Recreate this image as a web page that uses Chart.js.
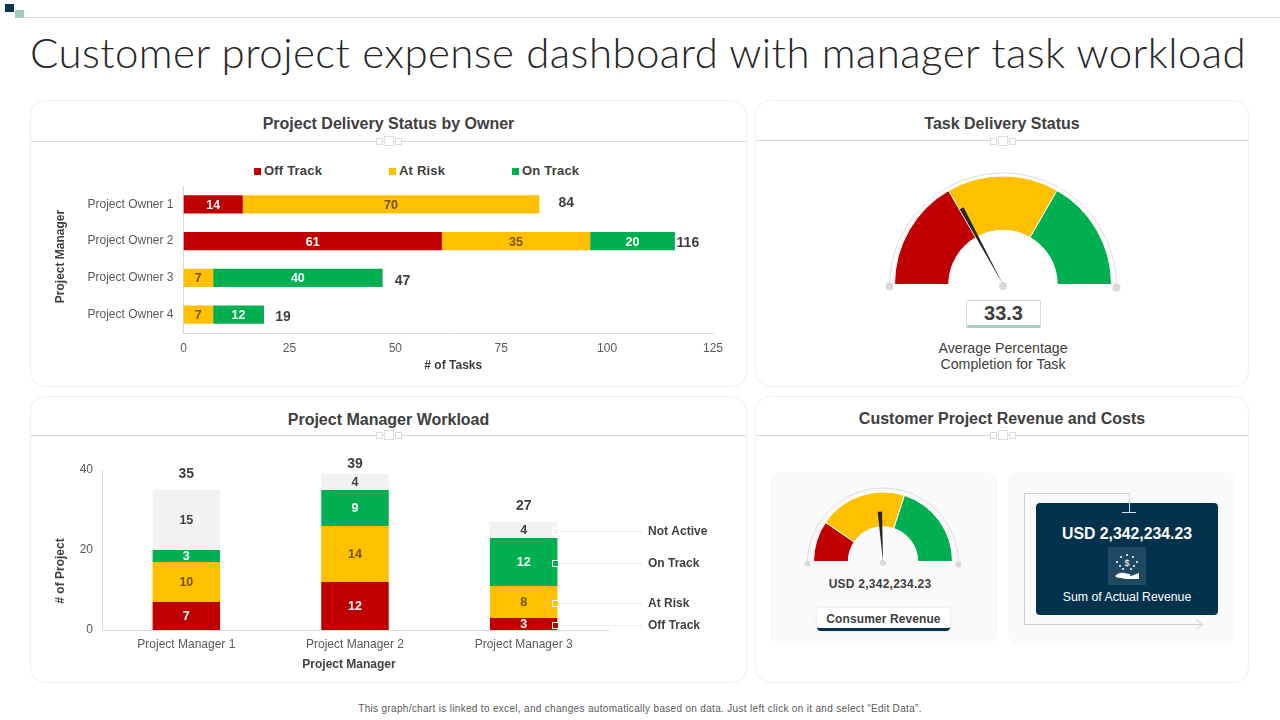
<!DOCTYPE html>
<html>
<head>
<meta charset="utf-8">
<title>Customer project expense dashboard</title>
<script src="https://cdn.jsdelivr.net/npm/chart.js@4"></script>
<style>
  html, body { margin: 0; padding: 0; background: #fff; }
  body { position: relative; width: 1280px; height: 720px; overflow: hidden; font-family: "Liberation Sans", Arial, sans-serif; color: #404040; }
  .abs, canvas { position: absolute; }
  .title { left: 30px; top: 27px; font: 300 42px Lato, sans-serif; color: #262626; white-space: nowrap; letter-spacing: 0.43px; }
  .card { position: absolute; background: #fff; border: 1px solid #f0f0f0; border-radius: 16px; box-sizing: border-box; box-shadow: 0 0 3px rgba(0,0,0,.03); }
  .card h2 { position: absolute; left: 0; right: 0; margin: 0; text-align: center; font-size: 16px; line-height: 20px; font-weight: 700; color: #404040; }
  .card hr { position: absolute; left: 0; right: 0; margin: 0; border: 0; border-top: 1px solid #d9d9d9; }
  .knot { position: absolute; display: flex; align-items: center; gap: 1px; transform: translate(-50%, -50%); }
  .knot i { display: block; width: 5px; height: 5px; background: #fff; border: 1px solid #dcdcdc; }
  .knot i.big { width: 8px; height: 8px; }
  .lg { position: absolute; top: 163px; font-size: 13px; line-height: 16px; font-weight: 700; color: #404040; white-space: nowrap; letter-spacing: .2px; }
  .lg b { position: absolute; left: -10px; top: 5px; width: 7px; height: 7px; }
  .panel { position: absolute; top: 472px; width: 227px; height: 172px; background: #fafafa; border-radius: 9px; }
  .center { text-align: center; white-space: nowrap; transform: translateX(-50%); }
</style>
</head>
<body>
<div class="abs" style="left:5px;top:4px;width:9px;height:8px;background:#0b3354"></div>
<div class="abs" style="left:15px;top:10px;width:9px;height:8px;background:#a3c9bf"></div>
<div class="abs" style="left:24px;top:17px;width:1256px;height:1px;background:#d9d9d9"></div>
<div class="abs title" id="mainTitle">Customer project expense dashboard with manager task workload</div>

<div class="card" style="left:30px;top:100px;width:717px;height:287px"><h2 style="top:13px">Project Delivery Status by Owner</h2><hr style="top:40px"><div class="knot" style="left:358px;top:40px"><i></i><i class="big"></i><i></i></div></div>
<div class="card" style="left:755px;top:100px;width:494px;height:287px"><h2 style="top:13px">Task Delivery Status</h2><hr style="top:39px"><div class="knot" style="left:247px;top:40px"><i></i><i class="big"></i><i></i></div></div>
<div class="card" style="left:30px;top:396px;width:717px;height:287px"><h2 style="top:13px">Project Manager Workload</h2><hr style="top:38px"><div class="knot" style="left:358px;top:38px"><i></i><i class="big"></i><i></i></div></div>
<div class="card" style="left:755px;top:396px;width:494px;height:287px"><h2 style="top:12px">Customer Project Revenue and Costs</h2><hr style="top:38px"><div class="knot" style="left:247px;top:38px"><i></i><i class="big"></i><i></i></div></div>

<div class="panel" style="left:770px"></div>
<div class="panel" style="left:1008px"></div>

<div id="ownerLegend"></div>
<canvas id="ownerChart" width="715" height="240" style="left:31px;top:145px"></canvas>
<canvas id="managerChart" width="715" height="243" style="left:31px;top:441px"></canvas>
<canvas id="taskGauge" width="250" height="135" style="left:878px;top:165px"></canvas>
<canvas id="revenueGauge" width="180" height="95" style="left:793px;top:482px"></canvas>

<div class="abs" style="left:966px;top:300px;width:73px;height:24px;background:#fff;border:1px solid #d9d9d9;border-bottom:3px solid #a9cfc4;border-radius:2px;text-align:center;font-size:20px;font-weight:700;line-height:25px" id="taskValue"></div>
<div class="abs center" style="left:1003px;top:340px;font-size:14.2px;line-height:16px">Average Percentage<br>Completion for Task</div>

<div class="abs center" id="revenueText" style="left:880px;top:577px;font-size:12px;line-height:15px;font-weight:700;letter-spacing:.25px"></div>
<div class="abs" style="left:817px;top:608px;width:133px;height:20px;background:#fff;border-bottom:3px solid #03324f;border-radius:4px;box-shadow:0 0 3px rgba(0,0,0,.12);text-align:center;font-size:12px;font-weight:700;line-height:22px;letter-spacing:.1px">Consumer Revenue</div>

<svg class="abs" style="left:1015px;top:485px" width="200" height="150" fill="none">
  <path d="M9.5 139.5V8.5H114.5V27M107 27.5H121" stroke="#d0d0d0"/>
</svg>
<div class="abs" style="left:1036px;top:503px;width:182px;height:112px;background:#03324f;border-radius:4px"></div>
<svg class="abs" style="left:1015px;top:485px" width="200" height="150" fill="none">
  <path d="M114.5 18V27.5M107 27.5H121" stroke="#d8e0e6"/>
  <path d="M9.5 139.5H187M181 134.5L188 139.5L181 144.5" stroke="#d0d0d0"/>
</svg>
<div class="abs center" id="actualText" style="left:1127px;top:524px;color:#fff;font-size:15.8px;line-height:19px;font-weight:700"></div>
<svg class="abs" style="left:1108px;top:547px" width="38" height="38">
  <rect width="38" height="38" fill="#1f4863"/>
  <g fill="#fff">
    <circle cx="19" cy="8" r="1"/><circle cx="13" cy="10" r="1"/><circle cx="25" cy="10" r="1"/><circle cx="9" cy="15" r="1"/><circle cx="29" cy="15" r="1"/><circle cx="12" cy="19" r="1"/><circle cx="26" cy="19" r="1"/><circle cx="15" cy="22" r="1"/><circle cx="23" cy="22" r="1"/>
    <text x="19" y="19" text-anchor="middle" font-size="9" font-family="Liberation Sans">$</text>
    <path d="M7 29c3-3 6-4 9-3l5 1c2 0 2 2 0 2h-4 6l8-3v6H19c-4 0-6-2-9-1z"/>
  </g>
</svg>
<div class="abs center" style="left:1127px;top:590px;color:#fff;font-size:12.3px;line-height:15px">Sum of Actual Revenue</div>

<div class="abs center" style="left:640px;top:703px;font-size:10px;line-height:12px;letter-spacing:.32px;color:#595959">This graph/chart is linked to excel, and changes automatically based on data. Just left click on it and select “Edit Data”.</div>

<script>
// ---------- data ----------
const owners = ['Project Owner 1', 'Project Owner 2', 'Project Owner 3', 'Project Owner 4'];
const ownerOffTrack = [14, 61, 0, 0];
const ownerAtRisk = [70, 35, 7, 7];
const ownerOnTrack = [0, 20, 40, 12];
const ownerTotals = [84, 116, 47, 19];
const ownerTicks = [0, 25, 50, 75, 100, 125];

const managers = ['Project Manager 1', 'Project Manager 2', 'Project Manager 3'];
const managerOffTrack = [7, 12, 3];
const managerAtRisk = [10, 14, 8];
const managerOnTrack = [3, 9, 12];
const managerNotActive = [15, 4, 4];
const managerTotals = [35, 39, 27];
const managerTicks = [0, 20, 40];

const taskBands = [33.3, 33.3, 33.4];
const taskNeedle = [34.2];
const taskAverage = '33.3';
const revenueBands = [19, 41, 40];
const revenueNeedle = [48];
const revenueLabel = 'USD 2,342,234.23';
const actualLabel = 'USD 2,342,234.23';

// ---------- colours ----------
const RED = '#C00000', AMBER = '#FFC000', GREEN = '#00B050', GREY = '#F2F2F2';
const INK = '#404040', TICK = '#595959', AXIS = '#d9d9d9';
const inkFor = { [RED]: '#fff', [AMBER]: '#705400', [GREEN]: '#fff', [GREY]: INK };

Chart.defaults.font.family = '"Liberation Sans", Arial, sans-serif';
Chart.defaults.font.size = 12;
Chart.defaults.animation = false;
Chart.defaults.responsive = false;

// numbers inside the stacked segments (no datalabels plugin available here)
const segmentLabels = {
  id: 'segmentLabels',
  afterDatasetsDraw(chart) {
    const { ctx } = chart;
    ctx.save();
    ctx.font = 'bold 12.5px "Liberation Sans"'; ctx.textAlign = 'center'; ctx.textBaseline = 'middle';
    chart.data.datasets.forEach((ds, d) => {
      ctx.fillStyle = inkFor[ds.backgroundColor];
      chart.getDatasetMeta(d).data.forEach((bar, i) => {
        if (!ds.data[i]) return;
        const c = bar.getCenterPoint();
        ctx.fillText(ds.data[i], c.x, c.y + 1);
      });
    });
    ctx.restore();
  },
};

// bold totals next to each stack. gaps/lifts are the hand placement from the slide
const stackTotals = {
  id: 'stackTotals',
  afterDatasetsDraw(chart, args, o) {
    const { ctx, scales } = chart, horiz = chart.options.indexAxis === 'y';
    ctx.save();
    ctx.font = 'bold 14px "Liberation Sans"'; ctx.fillStyle = INK; ctx.textAlign = 'center'; ctx.textBaseline = 'middle';
    o.values.forEach((v, i) => {
      if (horiz) ctx.fillText(v, scales.x.getPixelForValue(v) + o.gaps[i], scales.y.getPixelForValue(i) + o.lifts[i]);
      else ctx.fillText(v, scales.x.getPixelForValue(i), scales.y.getPixelForValue(v) + o.lifts[i]);
    });
    ctx.restore();
  },
};

// axis titles sit off-centre in the reference, so the native scale title can't be used
const axisTitles = {
  id: 'axisTitles',
  afterDraw(chart, args, o) {
    const { ctx, chartArea: a } = chart;
    ctx.save();
    ctx.font = 'bold 12px "Liberation Sans"'; ctx.fillStyle = INK; ctx.textAlign = 'center'; ctx.textBaseline = 'middle';
    ctx.fillText(o.x, (a.left + a.right) / 2 + o.xShift, a.bottom + o.xDrop);
    ctx.translate(a.left - o.yDrop, (a.top + a.bottom) / 2 + o.yShift);
    ctx.rotate(-Math.PI / 2);
    ctx.fillText(o.y, 0, 0);
    ctx.restore();
  },
};

// legend as call-outs off the last stack
const calloutLegend = {
  id: 'calloutLegend',
  afterDatasetsDraw(chart, args, o) {
    const { ctx } = chart;
    ctx.save();
    ctx.font = 'bold 12px "Liberation Sans"'; ctx.textBaseline = 'middle';
    chart.data.datasets.forEach((ds, d) => {
      const bar = chart.getDatasetMeta(d).data[managers.length - 1];
      const c = bar.getCenterPoint(), x = Math.round(c.x + bar.width / 2 - 2), y = Math.round(c.y) + 1;
      ctx.strokeStyle = '#efefef'; ctx.lineWidth = 1;
      ctx.beginPath(); ctx.moveTo(x, y + .5); ctx.lineTo(x + o.run, y + .5); ctx.stroke();
      ctx.fillStyle = '#f4f4f4'; ctx.beginPath(); ctx.arc(x + o.run, y + .5, 2, 0, Math.PI * 2); ctx.fill();
      ctx.fillStyle = ds.backgroundColor; ctx.strokeStyle = '#fff';
      ctx.fillRect(x - 2, y - 2, 5, 5); ctx.strokeRect(x - 2.5, y - 2.5, 6, 6);
      ctx.fillStyle = INK;
      ctx.fillText(ds.label, x + o.run + 8, y + .5);
    });
    ctx.restore();
  },
};

// thin ring, end dots and needle of the speedometers
const gaugeDress = {
  id: 'gaugeDress',
  afterDraw(chart, args, o) {
    const { ctx } = chart, arc = chart.getDatasetMeta(0).data[0];
    const cx = arc.x, cy = arc.y, r = arc.outerRadius, ring = r + o.ringGap;
    ctx.save();
    ctx.strokeStyle = '#dcdcdc'; ctx.lineWidth = 1;
    ctx.beginPath(); ctx.arc(cx, cy + 2, ring, Math.PI, 0); ctx.stroke();
    ctx.fillStyle = '#d9d9d9';
    [[cx - ring, cy + 2, o.dot], [cx + ring, cy + 3, o.dot], [cx, cy + 1.5, o.dot]].forEach((p) => {
      ctx.beginPath(); ctx.arc(p[0], p[1], p[2], 0, Math.PI * 2); ctx.fill();
    });
    const a = Math.PI + (o.value / 100) * Math.PI, len = r * o.reach;
    const nx = Math.cos(a), ny = Math.sin(a);
    ctx.fillStyle = '#262626';
    ctx.beginPath();
    ctx.moveTo(cx, cy);
    ctx.lineTo(cx + nx * len - ny * 2.2, cy + ny * len + nx * 2.2);
    ctx.lineTo(cx + nx * len + ny * 2.2, cy + ny * len - nx * 2.2);
    ctx.closePath(); ctx.fill();
    ctx.restore();
  },
};

function stack(label, data, color) {
  return { label, data, backgroundColor: color, borderWidth: 0, stack: 's' };
}
const tickStyle = { color: TICK, font: { size: 12 } };
const axisLine = { display: true, color: AXIS };

const ownerData = {
  labels: owners,
  datasets: [stack('Off Track', ownerOffTrack, RED), stack('At Risk', ownerAtRisk, AMBER), stack('On Track', ownerOnTrack, GREEN)],
};
new Chart(document.getElementById('ownerChart'), {
  type: 'bar',
  data: ownerData,
  options: {
    indexAxis: 'y',
    barPercentage: 0.5, categoryPercentage: 1,
    layout: { padding: { top: 41, right: 33, left: 0, bottom: 0 } },
    scales: {
      x: {
        stacked: true, min: ownerTicks[0], max: ownerTicks[ownerTicks.length - 1],
        afterBuildTicks: (s) => { s.ticks = ownerTicks.map((value) => ({ value })); },
        grid: { display: false, drawTicks: false }, border: axisLine,
        ticks: { ...tickStyle, padding: 8, maxRotation: 0 },
        afterFit: (s) => { s.height = 52; },
      },
      y: {
        stacked: true,
        grid: { display: false, drawTicks: false }, border: axisLine,
        ticks: { ...tickStyle, padding: 10 },
        afterFit: (s) => { s.width = 152.5; },
      },
    },
    plugins: {
      legend: { display: false }, tooltip: { enabled: false },
      stackTotals: { values: ownerTotals, gaps: [27, 13, 20, 19], lifts: [-1, 2, 3, 3] },
      axisTitles: { x: '# of Tasks', y: 'Project Manager', xShift: 5, xDrop: 33, yDrop: 123, yShift: -3 },
    },
  },
  plugins: [segmentLabels, stackTotals, axisTitles],
});

// html legend, the three items are spaced wider than the native one allows
const legendLefts = [264, 399, 522];
document.getElementById('ownerLegend').innerHTML = ownerData.datasets.map((ds, i) =>
  `<div class="lg" style="left:${legendLefts[i]}px"><b style="background:${ds.backgroundColor}"></b>${ds.label}</div>`).join('');

new Chart(document.getElementById('managerChart'), {
  type: 'bar',
  data: {
    labels: managers,
    datasets: [stack('Off Track', managerOffTrack, RED), stack('At Risk', managerAtRisk, AMBER), stack('On Track', managerOnTrack, GREEN), stack('Not Active', managerNotActive, GREY)],
  },
  options: {
    barPercentage: 0.4, categoryPercentage: 1,
    layout: { padding: { top: 29, right: 138, left: 0, bottom: 0 } },
    scales: {
      x: {
        stacked: true,
        grid: { display: false, drawTicks: false }, border: axisLine,
        ticks: { ...tickStyle, padding: 7, maxRotation: 0 },
        afterFit: (s) => { s.height = 54; },
      },
      y: {
        stacked: true, min: managerTicks[0], max: managerTicks[managerTicks.length - 1],
        afterBuildTicks: (s) => { s.ticks = managerTicks.map((value) => ({ value })); },
        grid: { display: false, drawTicks: false }, border: axisLine,
        ticks: { ...tickStyle, padding: 9 },
        afterFit: (s) => { s.width = 71; },
      },
    },
    plugins: {
      legend: { display: false }, tooltip: { enabled: false },
      stackTotals: { values: managerTotals, lifts: [-16, -10, -16] },
      axisTitles: { x: 'Project Manager', y: '# of Project', xShift: -6, xDrop: 35, yDrop: 41, yShift: 21 },
      calloutLegend: { run: 85 },
    },
  },
  plugins: [segmentLabels, stackTotals, axisTitles, calloutLegend],
});

function gauge(id, bands, needle, pad, dress) {
  new Chart(document.getElementById(id), {
    type: 'doughnut',
    data: { labels: ['Off Track', 'At Risk', 'On Track'], datasets: [{ data: bands, backgroundColor: [RED, AMBER, GREEN], borderColor: '#fff', borderWidth: 1 }] },
    options: {
      rotation: -90, circumference: 180, cutout: '50%',
      layout: { padding: pad },
      plugins: { legend: { display: false }, tooltip: { enabled: false }, gaugeDress: { value: needle[0], ...dress } },
    },
    plugins: [gaugeDress],
  });
}
gauge('taskGauge', taskBands, taskNeedle, { left: 15.5, right: 15.5, top: 10.5, bottom: 15 }, { reach: 0.8, dot: 4, ringGap: 5 });
gauge('revenueGauge', revenueBands, revenueNeedle, { left: 19.5, right: 19.5, top: 9.5, bottom: 15 }, { reach: 0.72, dot: 3, ringGap: 6 });

document.getElementById('taskValue').textContent = taskAverage;
document.getElementById('revenueText').textContent = revenueLabel;
document.getElementById('actualText').textContent = actualLabel;
</script>
</body>
</html>
